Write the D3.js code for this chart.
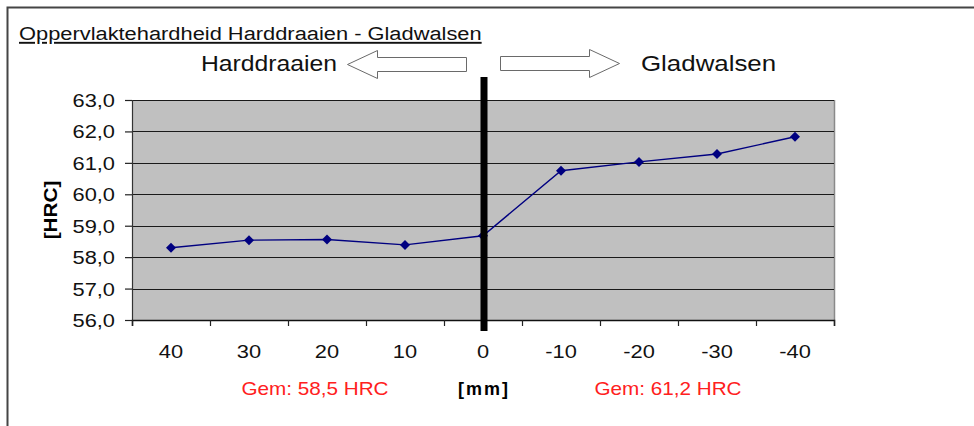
<!DOCTYPE html>
<html>
<head>
<meta charset="utf-8">
<script src="https://cdn.jsdelivr.net/npm/d3@7"></script>
<style>
  html, body { margin: 0; padding: 0; background: #fff; }
  svg { display: block; }
  text { font-family: "Liberation Sans", Arial, sans-serif; }
</style>
</head>
<body>
<svg id="chart" width="974" height="426"></svg>
<script>
// Positions along the part, in mm (harddraaien left, gladwalsen right)
const positions = ["40", "30", "20", "10", "0", "-10", "-20", "-30", "-40"];
// Surface hardness per position, HRC
const hardness = [58.3, 58.54, 58.56, 58.39, 58.68, 60.75, 61.03, 61.28, 61.83];
// Value axis ticks
const yTicks = [56, 57, 58, 59, 60, 61, 62, 63];
// Averages per zone
const averageLabels = ["Gem: 58,5 HRC", "Gem: 61,2 HRC"];
const titleText = "Oppervlaktehardheid Harddraaien - Gladwalsen";
const zoneLabels = ["Harddraaien", "Gladwalsen"];

const svg = d3.select("#chart");
const plot = { left: 132, right: 834, top: 100, bottom: 320 };
const SX = 1.15; // horizontal widening of the lettering

const x = d3.scaleBand().domain(positions).range([plot.left, plot.right]).padding(0);
const xEdge = d3.scaleLinear().domain([0, positions.length]).range([plot.left, plot.right]);
const y = d3.scaleLinear().domain([56, 63]).range([plot.bottom, plot.top]);

// helper: widened text placed at (px, py)
function label(parent, px, py, str, opts = {}) {
  const g = parent.append("g").attr("transform", `translate(${px},${py}) scale(${opts.sx || SX},1)`);
  const t = g.append("text")
    .attr("text-anchor", opts.anchor || "start")
    .attr("font-size", opts.size || 18)
    .attr("font-weight", opts.weight || "normal")
    .attr("fill", opts.fill || "#000")
    .text(str);
  if (opts.spacing) t.attr("letter-spacing", opts.spacing);
  if (opts.underline) t.attr("text-decoration", "underline");
  return g;
}

// outer frame
svg.append("path")
  .attr("d", "M7.5,426 L7.5,7.5 L974,7.5")
  .attr("fill", "none").attr("stroke", "#454545").attr("stroke-width", 2);

// title
label(svg, 19, 40, titleText, { size: 19, underline: true, fill: "#111" });

// plot background
svg.append("rect")
  .attr("x", plot.left).attr("y", plot.top)
  .attr("width", plot.right - plot.left).attr("height", plot.bottom - plot.top)
  .attr("fill", "#c0c0c0");

// right border of plot area
svg.append("line")
  .attr("x1", plot.right + 0.5).attr("x2", plot.right + 0.5)
  .attr("y1", plot.top).attr("y2", plot.bottom)
  .attr("stroke", "#8a8a8a").attr("stroke-width", 1.5);

// horizontal gridlines
svg.append("g").selectAll("line").data(yTicks.filter(v => v > 56)).join("line")
  .attr("x1", plot.left).attr("x2", plot.right)
  .attr("y1", d => Math.round(y(d)) + 0.5).attr("y2", d => Math.round(y(d)) + 0.5)
  .attr("stroke", "#1a1a1a").attr("stroke-width", 1.2);

// value axis
const yAxis = svg.append("g")
  .attr("transform", `translate(${plot.left},0)`)
  .call(d3.axisLeft(y).tickValues(yTicks).tickSize(7).tickFormat(""));
yAxis.select(".domain").attr("stroke", "#333").attr("stroke-width", 1.2);
yAxis.selectAll(".tick line").attr("stroke", "#222").attr("stroke-width", 1.2);
yTicks.forEach(v => {
  label(svg, 115, y(v) + 7, d3.format(".1f")(v).replace(".", ","), { anchor: "end", size: 19, fill: "#111" });
});

// category axis with ticks at category edges
const xAxis = svg.append("g")
  .attr("transform", `translate(0,${plot.bottom})`)
  .call(d3.axisBottom(xEdge).tickValues(d3.range(positions.length + 1)).tickSize(6).tickFormat(""));
xAxis.select(".domain").attr("stroke", "#111").attr("stroke-width", 1.5);
xAxis.selectAll(".tick line").attr("stroke", "#222").attr("stroke-width", 1.2);
positions.forEach(p => {
  label(svg, x(p) + x.bandwidth() / 2, 358, p, { anchor: "middle", size: 19, fill: "#111" });
});

// axis titles
const yTitle = svg.append("g").attr("transform", "translate(57,210) rotate(-90) scale(1.15,1)");
yTitle.append("text").attr("text-anchor", "middle").attr("font-size", 18)
  .attr("font-weight", "bold").text("[HRC]");
label(svg, x("0") + x.bandwidth() / 2 + 1, 395, "[mm]", { anchor: "middle", size: 18, weight: "bold", spacing: 2, sx: 1 });

// zone averages
label(svg, 315, 395, averageLabels[0], { anchor: "middle", size: 18, fill: "#ff2020" });
label(svg, 668, 395, averageLabels[1], { anchor: "middle", size: 18, fill: "#ff2020" });

// hardness line
const cx = d => x(d) + x.bandwidth() / 2;
const series = positions.map((p, i) => ({ p, v: hardness[i] }));
svg.append("path")
  .datum(series)
  .attr("fill", "none").attr("stroke", "#000080").attr("stroke-width", 1.4)
  .attr("d", d3.line().x(d => cx(d.p)).y(d => y(d.v)));
svg.append("g").selectAll("path").data(series).join("path")
  .attr("transform", d => `translate(${cx(d.p)},${y(d.v)})`)
  .attr("d", "M0,-5L5,0L0,5L-5,0Z")
  .attr("fill", "#000080");

// dividing bar between the two zones
svg.append("rect")
  .attr("x", cx("0") - 2.5).attr("y", 77)
  .attr("width", 7).attr("height", 254)
  .attr("fill", "#000");

// zone labels with direction arrows
label(svg, 337, 71, zoneLabels[0], { anchor: "end", size: 21.5, fill: "#111" });
label(svg, 641, 71, zoneLabels[1], { anchor: "start", size: 22.5, fill: "#111" });
svg.append("path")
  .attr("d", "M347.5,64.5 L377.5,50.5 L377.5,57.5 L466.5,57.5 L466.5,71.5 L377.5,71.5 L377.5,78.5 Z")
  .attr("fill", "#fff").attr("stroke", "#6a6a6a").attr("stroke-width", 1);
svg.append("path")
  .attr("d", "M619.5,63.5 L589.5,49.5 L589.5,56.5 L500.5,56.5 L500.5,70.5 L589.5,70.5 L589.5,77.5 Z")
  .attr("fill", "#fff").attr("stroke", "#6a6a6a").attr("stroke-width", 1);
</script>
</body>
</html>
